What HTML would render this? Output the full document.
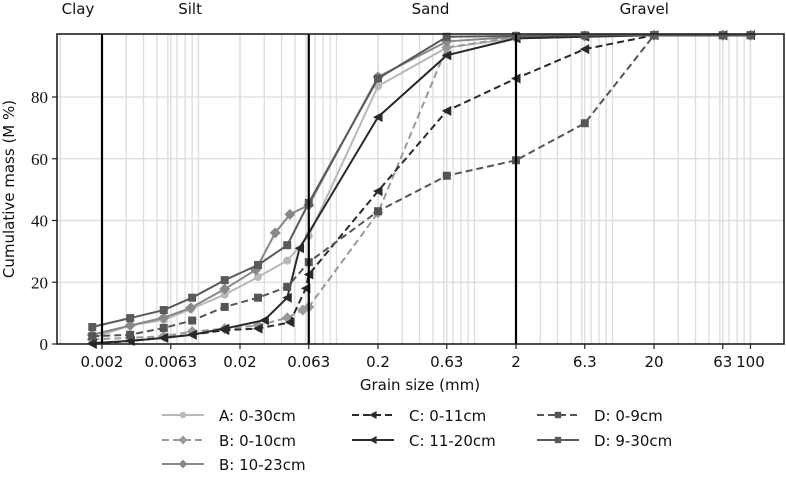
<!DOCTYPE html>
<html><head><meta charset="utf-8"><style>
html,body{margin:0;padding:0;background:#fff;width:786px;height:478px;overflow:hidden}
svg{display:block}
text{font-family:"DejaVu Sans","Liberation Sans",sans-serif;fill:#111}
.serif{font-family:"Liberation Serif",serif}
</style></head><body>
<svg id="chart" width="786" height="478"></svg>
<script>
const xTicks=[0.002,0.0063,0.02,0.063,0.2,0.63,2,6.3,20,63,100];
const xTickLabels=["0.002","0.0063","0.02","0.063","0.2","0.63","2","6.3","20","63","100"];
const yTicks=[0,20,40,60,80];
const boundaries=[0.002,0.063,2];
const zoneNames=["Clay","Silt","Sand","Gravel"];
const zoneCenters=[0.00094,0.0087,0.48,17];
const seriesNames=["A: 0-30cm","B: 0-10cm","B: 10-23cm","C: 0-11cm","C: 11-20cm","D: 0-9cm","D: 9-30cm"];
const xA=[0.0017,0.0032,0.0056,0.0088,0.0155,0.027,0.044,0.063,0.2,0.63,2,6.3,20,63,100];
const yA=[2,6,7.8,11.3,16,21.7,27,35,83.5,96,99,99.5,100,100,100];
const xB1=[0.0017,0.0032,0.0056,0.009,0.0155,0.027,0.044,0.057,0.063,0.2,0.63,2,6.3,20,63,100];
const yB1=[1.5,2,2.5,4,5,6,8.5,11,12,42.5,96,99.5,99.8,100,100,100];
const xB2=[0.0017,0.0032,0.0056,0.0088,0.0155,0.026,0.036,0.046,0.063,0.2,0.63,2,6.3,20,63,100];
const yB2=[3,6,8.5,11.7,17.8,24,36,42,45,86.5,98,99.5,99.8,100,100,100];
const xC1=[0.0017,0.0032,0.0056,0.009,0.0155,0.027,0.046,0.06,0.063,0.2,0.63,2,6.3,20,63,100];
const yC1=[0,1,2,3,4.5,5,7,18,22.5,49.5,75.5,86,95.5,100,100,100];
const xC2=[0.0017,0.0032,0.0056,0.009,0.0155,0.03,0.044,0.054,0.2,0.63,2,6.3,20,63,100];
const yC2=[0.3,1,2,3,5,7.7,15,31,73.5,93.5,99,99.5,100,100,100];
const xD1=[0.0017,0.0032,0.0056,0.009,0.0155,0.027,0.044,0.063,0.2,0.63,2,6.3,20,63,100];
const yD1=[2.5,3,5.2,7.6,12,15,18.5,26.5,43,54.5,59.5,71.5,100,100,100];
const xD2=[0.0017,0.0032,0.0056,0.009,0.0155,0.027,0.044,0.063,0.2,0.63,2,6.3,20,63,100];
const yD2=[5.5,8.4,11,15,20.7,25.6,32,45.7,86,99.5,99.8,100,100,100,100];

const NS="http://www.w3.org/2000/svg";
const svg=document.getElementById('chart');
const L=57,R=784,T=34,B=344;
const pxPerDec=138;
function X(v){return 102+(Math.log10(v)-Math.log10(0.002))*pxPerDec;}
function Y(v){return B-v*3.0875;}
function el(tag,attrs,parent){const e=document.createElementNS(NS,tag);for(const k in attrs)e.setAttribute(k,attrs[k]);(parent||svg).appendChild(e);return e;}

const grid=el('g',{});


for(let d=-4;d<=2;d++){for(let m=1;m<10;m++){const v=m*Math.pow(10,d);const x=X(v);if(x>L&&x<R)el('line',{x1:x,x2:x,y1:T,y2:B,stroke:'#dcdcdc','stroke-width':1.3},grid);}}
xTicks.forEach(v=>{const x=X(v);el('line',{x1:x,x2:x,y1:T,y2:B,stroke:'#dcdcdc','stroke-width':1.3},grid);});
yTicks.forEach(v=>{el('line',{x1:L,x2:R,y1:Y(v),y2:Y(v),stroke:'#dcdcdc','stroke-width':1.3},grid);});

const styles=[
 {c:'#b8b8b8',dash:'',m:'circle',xs:xA,ys:yA},
 {c:'#999999',dash:'7,4',m:'diamond',xs:xB1,ys:yB1},
 {c:'#888888',dash:'',m:'diamond',xs:xB2,ys:yB2},
 {c:'#2a2a2a',dash:'7,4',m:'tri',xs:xC1,ys:yC1},
 {c:'#2a2a2a',dash:'',m:'tri',xs:xC2,ys:yC2},
 {c:'#555555',dash:'7,4',m:'square',xs:xD1,ys:yD1},
 {c:'#5a5a5a',dash:'',m:'square',xs:xD2,ys:yD2}
];
function marker(g,type,x,y,c,s){
 s=s||1;
 if(type==='circle')return el('circle',{cx:x,cy:y,r:4*s,fill:c},g);
 if(type==='square')return el('rect',{x:x-4*s,y:y-4*s,width:8*s,height:8*s,fill:c},g);
 if(type==='diamond')return el('polygon',{points:`${x},${y-5.5*s} ${x+5.5*s},${y} ${x},${y+5.5*s} ${x-5.5*s},${y}`,fill:c},g);
 return el('polygon',{points:`${x-5*s},${y} ${x+4.5*s},${y-5*s} ${x+4.5*s},${y+5*s}`,fill:c},g);
}
styles.forEach((s,i)=>{
 const g=el('g',{});
 
 
 const pts=s.xs.map((v,j)=>X(v)+','+Y(s.ys[j])).join(' ');
 el('polyline',{points:pts,fill:'none',stroke:s.c,'stroke-width':2,'stroke-dasharray':s.dash},g);
 s.xs.forEach((v,j)=>{const m=marker(g,s.m,X(v),Y(s.ys[j]),s.c);
  
  });
});

boundaries.forEach(v=>{const l=el('line',{x1:X(v),x2:X(v),y1:T,y2:B,stroke:'#000','stroke-width':2.2});
 
 });

const frame=el('rect',{x:L,y:T,width:R-L,height:B-T,fill:'none',stroke:'#222','stroke-width':1.6});



xTicks.forEach((v,i)=>{const x=X(v);el('line',{x1:x,x2:x,y1:B,y2:B+5,stroke:'#222','stroke-width':1.2});
 const t=el('text',{x:x,y:B+23,'text-anchor':'middle','font-size':15});t.textContent=xTickLabels[i];
 
 });
yTicks.forEach(v=>{const y=Y(v);el('line',{x1:L-5,x2:L,y1:y,y2:y,stroke:'#222','stroke-width':1.2});
 const t=el('text',{x:L-9,y:y+6,'text-anchor':'end','font-size':17,class:'serif'});t.textContent=v;
 
 });

zoneNames.forEach((n,i)=>{const t=el('text',{x:i===0?78:X(zoneCenters[i]),y:14,'text-anchor':'middle','font-size':15});t.textContent=n;
 
 });

const xt=el('text',{x:420,y:390,'text-anchor':'middle','font-size':15});xt.textContent='Grain size (mm)';


const yt=el('text',{x:0,y:0,'text-anchor':'middle','font-size':15,transform:'translate(14,189) rotate(-90)'});yt.textContent='Cumulative mass (M %)';



const legPos=[[0,0],[0,1],[0,2],[1,0],[1,1],[2,0],[2,1]];
const colX=[162,352,537], rowY=[415,440,464];
const leg=el('g',{});


styles.forEach((s,i)=>{
 const [c,r]=legPos[i];const x=colX[c],y=rowY[r];
 const g=el('g',{},leg);
 
 
 el('line',{x1:x,x2:x+42,y1:y,y2:y,stroke:s.c,'stroke-width':2,'stroke-dasharray':s.dash},g);
 marker(g,s.m,x+21,y,s.c,0.8);
 const t=el('text',{x:x+57,y:y+6,'font-size':15},g);t.textContent=seriesNames[i];
});
</script>
</body></html>
